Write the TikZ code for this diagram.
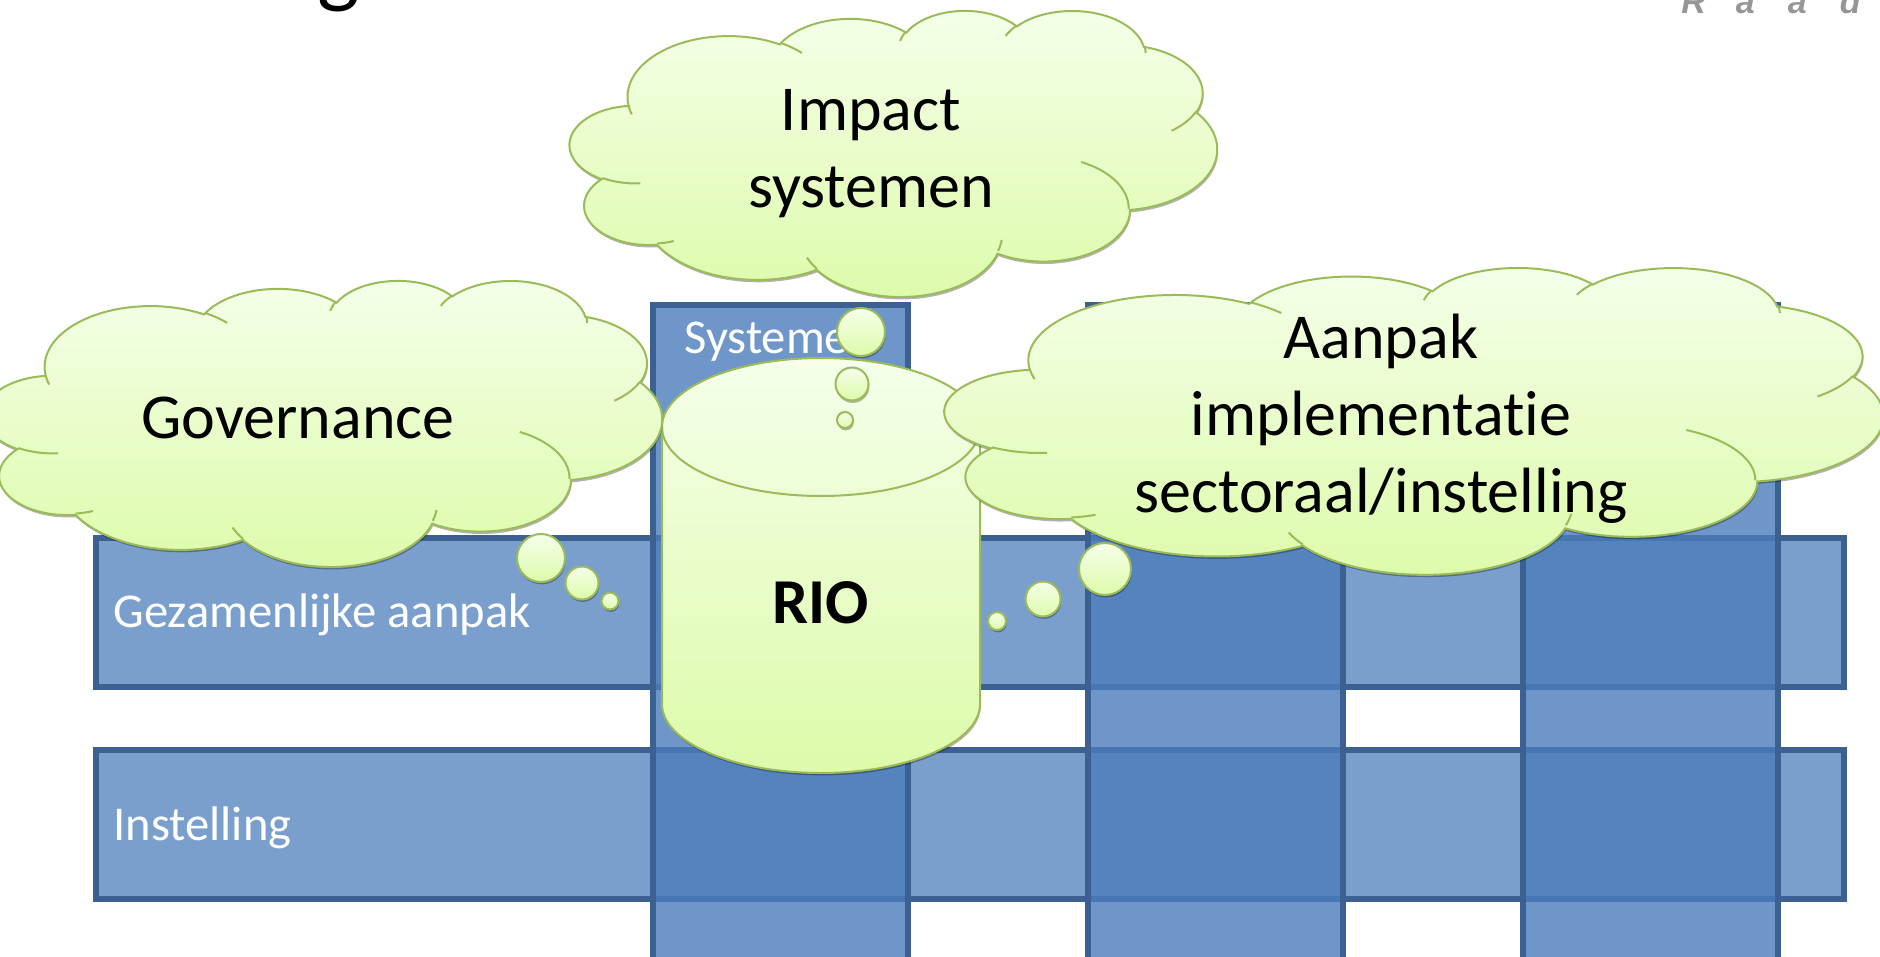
\documentclass[tikz,border=0pt]{standalone}
\usepackage{fontspec}
\setmainfont[Ligatures=CommonOff]{Carlito}
\newfontfamily\logofont{Liberation Sans}
\usepackage{tikz}
\usetikzlibrary{shapes.geometric, shadows, positioning, calc}
\definecolor{bandFill}{RGB}{74, 124, 186}
\definecolor{bandFg}{RGB}{60, 96, 146}
\definecolor{cloudFg}{RGB}{155, 187, 89}
\definecolor{cloudTop}{RGB}{245, 255, 234}
\definecolor{cloudBottom}{RGB}{221, 251, 170}
\definecolor{logoGrey}{RGB}{150, 150, 152}
\tikzstyle{band} = [rectangle, inner sep=0pt, anchor=north west, draw=bandFg, line width=3pt, fill=bandFill]
\tikzstyle{rowband} = [band, minimum width=874pt, minimum height=74.5pt, fill opacity=0.73]
\tikzstyle{colband} = [band, minimum width=127.5pt, minimum height=340pt, fill opacity=0.8]
\tikzstyle{bandtext} = [inner sep=0pt, text=white, font=\fontsize{24.3}{28}\selectfont]
\tikzstyle{greenbody} = [draw=cloudFg, line width=1pt, top color=cloudTop, bottom color=cloudBottom]
\tikzstyle{greenshadow} = [drop shadow={shadow xshift=0.4pt, shadow yshift=-1.2pt, opacity=0.3, fill=black}]
\tikzstyle{cloudline} = [draw=cloudFg, line width=1pt]
\tikzstyle{bubble} = [ellipse, inner sep=0pt, greenbody, greenshadow]
\tikzstyle{cloudtext} = [align=center, text=black, font=\fontsize{32}{38.5}\selectfont]
% x, y, x scale, y scale of one cloud
\newcommand{\myCloud}[4]{
\begin{scope}[shift={(#1,#2)}, xscale=#3, yscale=#4]
\draw [greenbody, greenshadow] (39,143.7)
  arc[x radius=67.53, y radius=91.90, start angle=-187.75, delta angle=128.09]
  arc[x radius=53.33, y radius=72.67, start angle=-152.02, delta angle=106.58]
  arc[x radius=43.65, y radius=59.45, start angle=-153.49, delta angle=116.17]
  arc[x radius=48.57, y radius=65.95, start angle=-139.71, delta angle=129.50]
  arc[x radius=53.33, y radius=72.73, start angle=-74.77, delta angle=97.98]
  arc[x radius=67.75, y radius=92.20, start angle=-37.53, delta angle=119.39]
  arc[x radius=57.85, y radius=78.67, start angle=0.46, delta angle=121.54]
  arc[x radius=67.52, y radius=92.15, start angle=16.84, delta angle=129.39]
  arc[x radius=77.20, y radius=105.43, start angle=58.99, delta angle=91.20]
  arc[x radius=43.60, y radius=59.18, start angle=83.31, delta angle=139.84]
  arc[x radius=43.45, y radius=59.45, start angle=120.30, delta angle=143.81]
  -- cycle;
\draw [cloudline] (46.93,261.77) arc[x radius=43.45, y radius=59.45, start angle=85.54, delta angle=34.76];
\draw [cloudline] (69.28,348.99) arc[x radius=43.60, y radius=59.18, start angle=68.24, delta angle=15.07];
\draw [cloudline] (164.78,390.90) arc[x radius=67.52, y radius=92.15, start angle=146.23, delta angle=11.99];
\draw [cloudline] (288.27,347.51) arc[x radius=67.52, y radius=92.15, start angle=6.5, delta angle=10.34];
\draw [cloudline] (341.29,229.54) arc[x radius=57.85, y radius=78.67, start angle=-63.2, delta angle=63.66];
\draw [cloudline] (417.98,153.54) arc[x radius=53.33, y radius=72.73, start angle=23.21, delta angle=29];
\draw [cloudline] (383.6,54.4) arc[x radius=48.57, y radius=65.95, start angle=-10.21, delta angle=9.2];
\draw [cloudline] (298,24) arc[x radius=48.57, y radius=65.95, start angle=-139.71, delta angle=-15.6];
\draw [cloudline] (224,33) arc[x radius=43.65, y radius=59.45, start angle=-153.49, delta angle=-14.17];
\draw [cloudline] (140.7,49.8) arc[x radius=67.53, y radius=91.90, start angle=-59.66, delta angle=15.26];
\draw [cloudline] (39,143.7) arc[x radius=67.53, y radius=91.90, start angle=-187.75, delta angle=-9.05];
\end{scope}
}

\begin{document}
\begin{tikzpicture}[x=0.5pt, y=-0.5pt]
\useasboundingbox (0,0) rectangle (1880,957);
\clip (0,0) rectangle (1880,957);

\node (title) [anchor=base, inner sep=0pt, text=black, font=\fontsize{45}{50}\selectfont] at(339,-3) {g};
\node (logo) [anchor=base west, inner sep=0pt, text=logoGrey, font=\logofont\bfseries\itshape\fontsize{17}{20}\selectfont] at(1681,14) {R\hspace{15pt}a\hspace{16.5pt}a\hspace{16.5pt}d};

\node (gez) [rowband] at(93,535) {};
\node (inst) [rowband] at(93,747) {};
\node (col0) [colband] at(650,302) {};
\node (col1) [colband] at(1085,302) {};
\node (col2) [colband] at(1520,302) {};

\node (gezText) [bandtext, anchor=west, xshift=10pt, yshift=-1pt] at(gez.west) {Gezamenlijke aanpak};
\node (instText) [bandtext, anchor=west, xshift=10pt, yshift=-1.5pt] at(inst.west) {Instelling};
\node (col0Text) [bandtext, anchor=base west] at(684,354) {Systeme};

% RIO
\draw [greenbody, greenshadow] (980,704) -- (980,427) arc[x radius=159, y radius=69, start angle=0, delta angle=-180] -- (662,704) arc[x radius=159, y radius=69, start angle=180, delta angle=-180] -- cycle;
\draw [cloudline] (662,427) arc[x radius=159, y radius=69, start angle=180, delta angle=-180];
\node (rio) [cloudtext, font=\bfseries\fontsize{32}{38.5}\selectfont] at(821,603) {RIO};

\myCloud{570}{10}{1.4977}{0.662}
\myCloud{-15.6}{280}{1.5685}{0.662}
\myCloud{945}{267}{2.172}{0.71}

\node (impact) [cloudtext] at(871,154) {Impact\\systemen};
\node (governance) [cloudtext] at(298,418) {Governance};
\node (aanpak) [cloudtext] at(1381,419) {Aanpak\\implementatie\\sectoraal/instelling};

\node (impact0) [bubble, minimum size=24pt] at(861,332) {};
\node (impact1) [bubble, minimum size=16.5pt] at(852,384) {};
\node (impact2) [bubble, minimum size=8pt] at(845,420) {};
\node (gov0) [bubble, minimum size=24pt] at(541,558) {};
\node (gov1) [bubble, minimum size=16.5pt] at(582,583) {};
\node (gov2) [bubble, minimum size=8.5pt] at(610,601) {};
\node (aanpak0) [bubble, minimum size=26pt] at(1105,569) {};
\node (aanpak1) [bubble, minimum size=17.5pt] at(1043,599) {};
\node (aanpak2) [bubble, minimum size=9pt] at(997,621) {};

\end{tikzpicture}
\end{document}
